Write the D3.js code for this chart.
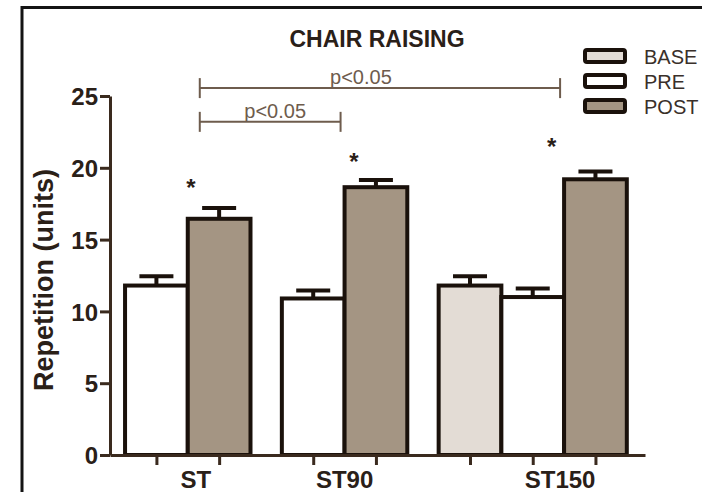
<!DOCTYPE html>
<html lang="en">
<head>
<meta charset="utf-8">
<title>Chair raising</title>
<script src="https://cdn.jsdelivr.net/npm/d3@7"></script>
<style>
  body { margin: 0; background: #fff; }
  svg { display: block; font-family: "Liberation Sans", Arial, sans-serif; }
  .axis path, .axis line { stroke: #3a2a1e; }
  .axis text { fill: #2a2018; font-weight: bold; font-size: 24px; font-family: "Liberation Sans", Arial, sans-serif; }
</style>
</head>
<body>
<svg width="702" height="492"></svg>
<script>
// data
var groups = ["ST", "ST90", "ST150"];
var seriesNames = ["BASE", "PRE", "POST"];
var baseMean = [null, null, 11.8];
var baseSem  = [null, null, 0.65];
var preMean  = [11.8, 10.9, 11.0];
var preSem   = [0.65, 0.55, 0.6];
var postMean = [16.45, 18.65, 19.2];
var postSem  = [0.75, 0.5, 0.55];
var starLevel = [19.0, 20.8, 21.9];
var yTicks = [0, 5, 10, 15, 20, 25];
var bracketFrom = ["ST", "ST"];
var bracketTo   = ["ST150", "ST90"];
var bracketLevel = [25.55, 23.2];
var bracketText = ["p<0.05", "p<0.05"];

var colorBase = "#e3dcd5", colorPre = "#ffffff", colorPost = "#a49583";
var barStroke = "#1a110b", inkColor = "#2a2018", bracketColor = "#6e5c4d";
var fills = { BASE: colorBase, PRE: colorPre, POST: colorPost };

var svg = d3.select("svg");

svg.append("rect").attr("width", 702).attr("height", 492).attr("fill", "#fff");
// outer frame
svg.append("rect")
  .attr("x", 22).attr("y", 7.5).attr("width", 800).attr("height", 600)
  .attr("fill", "none").attr("stroke", "#141414").attr("stroke-width", 3);

// flatten bars; each group is laid out in bar-width units with half a bar between groups
var means = { BASE: baseMean, PRE: preMean, POST: postMean };
var sems = { BASE: baseSem, PRE: preSem, POST: postSem };
var bars = [], groupLabelAt = [], pos = 0.24;
groups.forEach(function(g, i) {
  seriesNames.forEach(function(s) {
    if (means[s][i] == null) return;
    bars.push({ group: g, series: s, gi: i, start: pos, mean: means[s][i], sem: sems[s][i] });
    pos += 1;
  });
  groupLabelAt.push(pos - 1);   // boundary between PRE and POST
  pos += 0.5;
});
var totalUnits = pos - 0.5 + 0.29;

var x = d3.scaleLinear().domain([0, totalUnits]).range([110, 645]);
var y = d3.scaleLinear().domain([0, 25]).range([455, 96]);
var bw = x(1) - x(0);

// bars
svg.append("g").selectAll("rect")
  .data(bars)
  .enter().append("rect")
    .attr("x", function(d) { return x(d.start); })
    .attr("y", function(d) { return y(d.mean); })
    .attr("width", bw)
    .attr("height", function(d) { return y(0) - y(d.mean); })
    .attr("fill", function(d) { return fills[d.series]; })
    .attr("stroke", barStroke)
    .attr("stroke-width", 4);

// error bars (upper half only)
var err = svg.append("g").attr("stroke", barStroke).attr("stroke-width", 4);
bars.forEach(function(d) {
  var cx = x(d.start + 0.5);
  err.append("line").attr("x1", cx).attr("x2", cx)
    .attr("y1", y(d.mean)).attr("y2", y(d.mean + d.sem));
  err.append("line").attr("x1", cx - 17).attr("x2", cx + 17)
    .attr("y1", y(d.mean + d.sem)).attr("y2", y(d.mean + d.sem));
});

// y axis
var yAxis = svg.append("g")
  .attr("class", "axis")
  .attr("transform", "translate(" + x(0) + ",0)")
  .call(d3.axisLeft(y).tickValues(yTicks).tickSize(10).tickSizeOuter(0).tickPadding(2));
yAxis.select(".domain").attr("stroke-width", 3);
yAxis.selectAll(".tick line").attr("stroke-width", 3);
yAxis.selectAll(".tick text").attr("dy", "0.36em");

// x axis: one tick under every bar
var xAxis = svg.append("g")
  .attr("class", "axis")
  .attr("transform", "translate(0," + y(0) + ")")
  .call(d3.axisBottom(x)
    .tickValues(bars.map(function(d) { return d.start + 0.5; }))
    .tickFormat("").tickSize(10).tickSizeOuter(0));
xAxis.select(".domain").attr("stroke-width", 3);
xAxis.selectAll(".tick line").attr("stroke-width", 3);

var labelNudge = [8, 0, -4];
svg.append("g").selectAll("text")
  .data(groups)
  .enter().append("text")
    .attr("x", function(d, i) { return x(groupLabelAt[i]) + labelNudge[i]; })
    .attr("y", 488)
    .attr("text-anchor", "middle")
    .attr("fill", inkColor)
    .style("font-size", "24px")
    .style("font-weight", "bold")
    .text(function(d) { return d; });

// y axis title
svg.append("text")
  .attr("transform", "translate(53,280) rotate(-90)")
  .attr("text-anchor", "middle")
  .attr("fill", inkColor)
  .style("font-size", "27px")
  .style("font-weight", "bold")
  .text("Repetition (units)");

// chart title
svg.append("text")
  .attr("x", 377).attr("y", 47)
  .attr("text-anchor", "middle")
  .attr("fill", inkColor)
  .style("font-size", "23px")
  .style("font-weight", "bold")
  .text("CHAIR RAISING");

// significance stars over POST bars
var starShift = [-0.45, -0.35, -0.7];
svg.append("g").selectAll("text")
  .data(starLevel)
  .enter().append("text")
    .attr("x", function(d, i) { return x(groupLabelAt[i] + 0.5 + starShift[i]); })
    .attr("y", function(d) { return y(d) + 14; })
    .attr("text-anchor", "middle")
    .attr("fill", inkColor)
    .style("font-size", "24px")
    .style("font-weight", "bold")
    .text("*");

// comparison brackets
var labelShift = [-19, 5];
bracketFrom.forEach(function(g, i) {
  var x1 = x(groupLabelAt[groups.indexOf(g)]) + 12,
      x2 = x(groupLabelAt[groups.indexOf(bracketTo[i])]) - 4,
      yy = y(bracketLevel[i]);
  var b = svg.append("g").attr("stroke", bracketColor).attr("stroke-width", 2);
  b.append("line").attr("x1", x1).attr("x2", x2).attr("y1", yy).attr("y2", yy);
  b.append("line").attr("x1", x1).attr("x2", x1).attr("y1", yy - 10).attr("y2", yy + 10);
  b.append("line").attr("x1", x2).attr("x2", x2).attr("y1", yy - 10).attr("y2", yy + 10);
  svg.append("text")
    .attr("x", (x1 + x2) / 2 + labelShift[i])
    .attr("y", yy - 4)
    .attr("text-anchor", "middle")
    .attr("fill", bracketColor)
    .style("font-size", "20px")
    .text(bracketText[i]);
});

// legend
var legend = svg.append("g").attr("transform", "translate(585,50)");
seriesNames.forEach(function(s, i) {
  legend.append("rect")
    .attr("x", 0).attr("y", i * 25)
    .attr("width", 40).attr("height", 12)
    .attr("rx", 2)
    .attr("fill", fills[s])
    .attr("stroke", barStroke)
    .attr("stroke-width", 4);
  legend.append("text")
    .attr("x", 59).attr("y", i * 25 + 14)
    .attr("fill", "#3a302a")
    .style("font-size", "20px")
    .text(s);
});
</script>
</body>
</html>
